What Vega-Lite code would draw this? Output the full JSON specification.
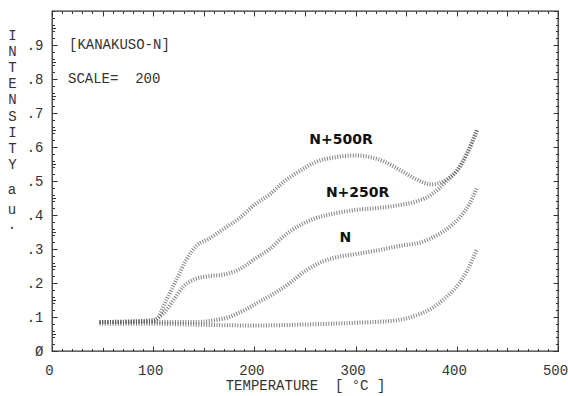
{
  "$schema": "https://vega.github.io/schema/vega-lite/v6.json",
  "width": 506,
  "height": 340,
  "autosize": {"type": "none"},
  "padding": {"left": 52, "top": 11, "right": 10, "bottom": 45},
  "background": "white",
  "config": {
    "view": {"stroke": "#333", "strokeWidth": 1.3},
    "axis": {
      "domain": false,
      "grid": false,
      "tickColor": "#333",
      "tickWidth": 1,
      "labelFlush": false,
      "labelFont": "Liberation Mono",
      "labelFontSize": 14,
      "labelColor": "#333",
      "titleFont": "Liberation Mono",
      "titleFontWeight": "normal",
      "titleColor": "#333",
      "titleFontSize": 14
    }
  },
  "data": {
    "values": [
      {"s": "BG", "T": 47, "I": 0.08}, {"s": "BG", "T": 100, "I": 0.08}, {"s": "BG", "T": 150, "I": 0.077}, {"s": "BG", "T": 200, "I": 0.075}, {"s": "BG", "T": 250, "I": 0.078}, {"s": "BG", "T": 300, "I": 0.083}, {"s": "BG", "T": 340, "I": 0.09}, {"s": "BG", "T": 360, "I": 0.105}, {"s": "BG", "T": 375, "I": 0.125}, {"s": "BG", "T": 390, "I": 0.16}, {"s": "BG", "T": 400, "I": 0.19}, {"s": "BG", "T": 410, "I": 0.235}, {"s": "BG", "T": 420, "I": 0.3},
      {"s": "N", "T": 47, "I": 0.085}, {"s": "N", "T": 100, "I": 0.085}, {"s": "N", "T": 140, "I": 0.085}, {"s": "N", "T": 160, "I": 0.09}, {"s": "N", "T": 175, "I": 0.1}, {"s": "N", "T": 190, "I": 0.12}, {"s": "N", "T": 205, "I": 0.145}, {"s": "N", "T": 220, "I": 0.17}, {"s": "N", "T": 235, "I": 0.2}, {"s": "N", "T": 250, "I": 0.235}, {"s": "N", "T": 265, "I": 0.26}, {"s": "N", "T": 280, "I": 0.275}, {"s": "N", "T": 300, "I": 0.285}, {"s": "N", "T": 320, "I": 0.295}, {"s": "N", "T": 345, "I": 0.31}, {"s": "N", "T": 365, "I": 0.32}, {"s": "N", "T": 380, "I": 0.34}, {"s": "N", "T": 395, "I": 0.37}, {"s": "N", "T": 405, "I": 0.4}, {"s": "N", "T": 412, "I": 0.43}, {"s": "N", "T": 420, "I": 0.48},
      {"s": "N+250R", "T": 47, "I": 0.085}, {"s": "N+250R", "T": 100, "I": 0.09}, {"s": "N+250R", "T": 110, "I": 0.11}, {"s": "N+250R", "T": 120, "I": 0.15}, {"s": "N+250R", "T": 130, "I": 0.19}, {"s": "N+250R", "T": 140, "I": 0.21}, {"s": "N+250R", "T": 155, "I": 0.22}, {"s": "N+250R", "T": 170, "I": 0.225}, {"s": "N+250R", "T": 185, "I": 0.24}, {"s": "N+250R", "T": 200, "I": 0.27}, {"s": "N+250R", "T": 215, "I": 0.3}, {"s": "N+250R", "T": 230, "I": 0.34}, {"s": "N+250R", "T": 245, "I": 0.37}, {"s": "N+250R", "T": 260, "I": 0.39}, {"s": "N+250R", "T": 280, "I": 0.405}, {"s": "N+250R", "T": 300, "I": 0.415}, {"s": "N+250R", "T": 320, "I": 0.42}, {"s": "N+250R", "T": 345, "I": 0.43}, {"s": "N+250R", "T": 360, "I": 0.44}, {"s": "N+250R", "T": 375, "I": 0.46}, {"s": "N+250R", "T": 390, "I": 0.5}, {"s": "N+250R", "T": 400, "I": 0.53}, {"s": "N+250R", "T": 410, "I": 0.58}, {"s": "N+250R", "T": 420, "I": 0.65},
      {"s": "N+500R", "T": 47, "I": 0.085}, {"s": "N+500R", "T": 100, "I": 0.09}, {"s": "N+500R", "T": 105, "I": 0.1}, {"s": "N+500R", "T": 113, "I": 0.15}, {"s": "N+500R", "T": 123, "I": 0.21}, {"s": "N+500R", "T": 133, "I": 0.27}, {"s": "N+500R", "T": 143, "I": 0.31}, {"s": "N+500R", "T": 155, "I": 0.33}, {"s": "N+500R", "T": 170, "I": 0.36}, {"s": "N+500R", "T": 185, "I": 0.39}, {"s": "N+500R", "T": 200, "I": 0.43}, {"s": "N+500R", "T": 215, "I": 0.46}, {"s": "N+500R", "T": 230, "I": 0.5}, {"s": "N+500R", "T": 245, "I": 0.53}, {"s": "N+500R", "T": 260, "I": 0.555}, {"s": "N+500R", "T": 280, "I": 0.57}, {"s": "N+500R", "T": 300, "I": 0.575}, {"s": "N+500R", "T": 315, "I": 0.57}, {"s": "N+500R", "T": 330, "I": 0.555}, {"s": "N+500R", "T": 345, "I": 0.53}, {"s": "N+500R", "T": 360, "I": 0.505}, {"s": "N+500R", "T": 375, "I": 0.49}, {"s": "N+500R", "T": 390, "I": 0.505}, {"s": "N+500R", "T": 400, "I": 0.53}, {"s": "N+500R", "T": 410, "I": 0.58}, {"s": "N+500R", "T": 420, "I": 0.65}
    ]
  },
  "layer": [
    {
      "mark": {"type": "line", "strokeWidth": 4, "strokeDash": [1, 1.6], "color": "#5a5a5a", "interpolate": "monotone", "opacity": 0.75},
      "encoding": {
        "x": {
          "field": "T", "type": "quantitative",
          "scale": {"domain": [0, 500], "nice": false, "zero": false},
          "axis": {
            "orient": "bottom",
            "values": [0, 100, 200, 300, 400, 500],
            "tickSize": -5,
            "labelPadding": 17,
            "labelOffset": -3,
            "title": "TEMPERATURE\u00a0\u00a0[\u00a0°C\u00a0]",
            "titleX": 253,
            "titleY": 34,
            "titleBaseline": "middle",
            "titleAlign": "center"
          }
        },
        "y": {
          "field": "I", "type": "quantitative",
          "scale": {"domain": [0, 1], "nice": false, "zero": false},
          "axis": {
            "orient": "left",
            "values": [0, 0.1, 0.2, 0.3, 0.4, 0.5, 0.6, 0.7, 0.8, 0.9],
            "labelExpr": "datum.value == 0 ? 'Ø' : '.' + round(datum.value * 10)",
            "tickSize": -5,
            "labelPadding": 14,
            "title": ["I", "N", "T", "E", "N", "S", "I", "T", "Y"],
            "titleAngle": 0,
            "titleX": -40,
            "titleY": 17,
            "titleBaseline": "top",
            "titleAlign": "center",
            "titleLineHeight": 16.2
          }
        },
        "detail": {"field": "s"}
      }
    },
    {
      "mark": {"type": "point", "opacity": 0},
      "encoding": {
        "x": {"field": "T", "type": "quantitative", "axis": {"orient": "bottom", "values": [0,10,20,30,40,50,60,70,80,90,100,110,120,130,140,150,160,170,180,190,200,210,220,230,240,250,260,270,280,290,300,310,320,330,340,350,360,370,380,390,400,410,420,430,440,450,460,470,480,490,500], "tickSize": -2.5, "labels": false, "title": null}},
        "y": {"field": "I", "type": "quantitative", "axis": {"orient": "left", "values": [0,0.02,0.04,0.06,0.08,0.1,0.12,0.14,0.16,0.18,0.2,0.22,0.24,0.26,0.28,0.3,0.32,0.34,0.36,0.38,0.4,0.42,0.44,0.46,0.48,0.5,0.52,0.54,0.56,0.58,0.6,0.62,0.64,0.66,0.68,0.7,0.72,0.74,0.76,0.78,0.8,0.82,0.84,0.86,0.88,0.9,0.92,0.94,0.96,0.98,1], "tickSize": -2.5, "labels": false, "title": null}}
      }
    },
    {
      "mark": {"type": "point", "opacity": 0},
      "encoding": {
        "x": {"field": "T", "type": "quantitative", "axis": {"orient": "top", "values": [0,10,20,30,40,50,60,70,80,90,100,110,120,130,140,150,160,170,180,190,200,210,220,230,240,250,260,270,280,290,300,310,320,330,340,350,360,370,380,390,400,410,420,430,440,450,460,470,480,490,500], "tickSize": -2.5, "labels": false, "title": null}},
        "y": {"field": "I", "type": "quantitative", "axis": {"orient": "right", "values": [0,0.02,0.04,0.06,0.08,0.1,0.12,0.14,0.16,0.18,0.2,0.22,0.24,0.26,0.28,0.3,0.32,0.34,0.36,0.38,0.4,0.42,0.44,0.46,0.48,0.5,0.52,0.54,0.56,0.58,0.6,0.62,0.64,0.66,0.68,0.7,0.72,0.74,0.76,0.78,0.8,0.82,0.84,0.86,0.88,0.9,0.92,0.94,0.96,0.98,1], "tickSize": -2.5, "labels": false, "title": null}}
      }
    },
    {
      "mark": {"type": "point", "opacity": 0},
      "encoding": {
        "x": {"field": "T", "type": "quantitative", "axis": {"orient": "top", "values": [0, 50, 100, 150, 200, 250, 300, 350, 400, 450, 500], "tickSize": -5, "labels": false, "title": null}},
        "y": {"field": "I", "type": "quantitative", "axis": {"orient": "right", "values": [0, 0.1, 0.2, 0.3, 0.4, 0.5, 0.6, 0.7, 0.8, 0.9, 1], "tickSize": -5, "labels": false, "title": null}}
      }
    },
    {
      "mark": {"type": "point", "opacity": 0},
      "encoding": {
        "x": {"field": "T", "type": "quantitative", "axis": {"orient": "bottom", "values": [50, 150, 250, 350, 450], "tickSize": -3.5, "labels": false, "title": null}},
        "y": {"field": "I", "type": "quantitative", "axis": {"orient": "left", "values": [0.05, 0.15, 0.25, 0.35, 0.45, 0.55, 0.65, 0.75, 0.85, 0.95], "tickSize": -3.5, "labels": false, "title": null}}
      }
    },
    {
      "data": {
        "values": [
          {"T": 16.8, "I": 0.9, "label": "[KANAKUSO-N]"},
          {"T": 15.8, "I": 0.8, "label": "SCALE=\u00a0\u00a0200"}
        ]
      },
      "mark": {"type": "text", "font": "Liberation Mono", "fontSize": 14, "color": "#333", "align": "left", "baseline": "middle"},
      "encoding": {
        "x": {"field": "T", "type": "quantitative", "axis": null},
        "y": {"field": "I", "type": "quantitative", "axis": null},
        "text": {"field": "label"}
      }
    },
    {
      "data": {
        "values": [
          {"T": -39.5, "I": 0.473, "label": "a"},
          {"T": -39.5, "I": 0.415, "label": "u"},
          {"T": -39.5, "I": 0.37, "label": "."}
        ]
      },
      "mark": {"type": "text", "font": "Liberation Mono", "fontSize": 14, "color": "#333", "align": "center", "baseline": "middle"},
      "encoding": {
        "x": {"field": "T", "type": "quantitative", "axis": null},
        "y": {"field": "I", "type": "quantitative", "axis": null},
        "text": {"field": "label"}
      }
    },
    {
      "data": {
        "values": [
          {"T": 285.6, "I": 0.62, "label": "N+500R"},
          {"T": 302, "I": 0.465, "label": "N+250R"},
          {"T": 290, "I": 0.331, "label": "N"}
        ]
      },
      "mark": {"type": "text", "font": "DejaVu Sans", "fontWeight": "bold", "fontSize": 14, "color": "#111", "align": "center", "baseline": "middle"},
      "encoding": {
        "x": {"field": "T", "type": "quantitative", "axis": null},
        "y": {"field": "I", "type": "quantitative", "axis": null},
        "text": {"field": "label"}
      }
    }
  ],
  "resolve": {"axis": {"x": "independent", "y": "independent"}}
}
